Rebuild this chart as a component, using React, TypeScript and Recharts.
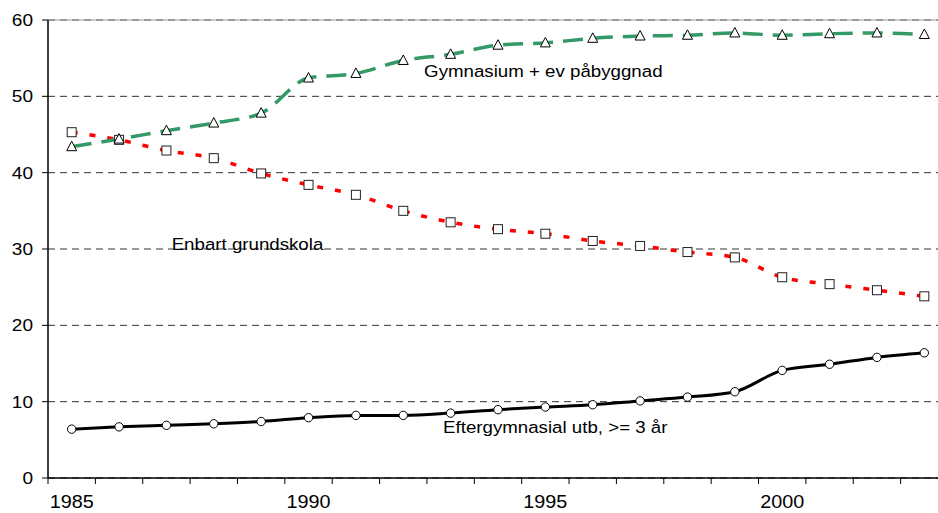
import React from 'react';
import { LineChart, Line, XAxis, YAxis, CartesianGrid, ReferenceLine, ReferenceDot } from 'recharts';

const YEARS = [1985, 1986, 1987, 1988, 1989, 1990, 1991, 1992, 1993, 1994, 1995, 1996, 1997, 1998, 1999, 2000, 2001, 2002, 2003];
const GYMNASIUM = [43.4, 44.4, 45.5, 46.5, 47.8, 52.4, 53.0, 54.7, 55.5, 56.7, 57.0, 57.6, 57.9, 58.0, 58.3, 58.0, 58.2, 58.3, 58.1];
const GRUNDSKOLA = [45.3, 44.3, 42.9, 41.9, 39.9, 38.4, 37.1, 35.0, 33.5, 32.6, 32.0, 31.05, 30.4, 29.6, 28.9, 26.3, 25.4, 24.6, 23.8];
const EFTERGYMN = [6.4, 6.7, 6.9, 7.1, 7.4, 7.9, 8.2, 8.2, 8.5, 8.95, 9.3, 9.6, 10.1, 10.6, 11.3, 14.1, 14.9, 15.8, 16.4];
const Y_TICKS = [0, 10, 20, 30, 40, 50, 60];
const LABELED_YEARS = [1985, 1990, 1995, 2000];
const SERIES_LABELS = {
  gym: 'Gymnasium + ev påbyggnad',
  grund: 'Enbart grundskola',
  efter: 'Eftergymnasial utb, >= 3 år',
};
// annotation anchor points in data coordinates (year, value)
const LABEL_POS = {
  gym: [1992.44, 52.57],
  grund: [1987.11, 29.87],
  efter: [1992.84, 5.93],
};

const data = YEARS.map((year, i) => ({
  year,
  gym: GYMNASIUM[i],
  grund: GRUNDSKOLA[i],
  efter: EFTERGYMN[i],
}));

// category boundaries (Excel style tick marks between categories)
const X_BOUNDS = [...YEARS.map((y) => y - 0.5), YEARS[YEARS.length - 1] + 0.5];

const FONT = '"Liberation Sans", Arial, sans-serif';
const CHART_W = 960;
const CHART_H = 513;
const MARGIN = { top: 20, right: 12, bottom: 0, left: 0 };
const YAXIS_W = 48;
const PLOT_W = CHART_W - MARGIN.left - MARGIN.right - YAXIS_W;
const HALF_BAND = PLOT_W / (X_BOUNDS.length - 1) / 2;

const XTick = (props: any) => {
  const { x, y, payload } = props;
  const yr = payload.value + 0.5;
  if (!LABELED_YEARS.includes(yr)) return <g />;
  return (
    <text
      transform={`translate(${x + HALF_BAND},${y}) scale(1.1,1)`}
      x={0}
      y={0}
      textAnchor="middle"
      fontSize={18}
      fontFamily={FONT}
      fill="#000"
    >
      {yr}
    </text>
  );
};

const YTick = (props: any) => {
  const { x, y, payload } = props;
  return (
    <text
      transform={`translate(${x},${y}) scale(1.12,1)`}
      x={0}
      y={0}
      dy="0.36em"
      textAnchor="end"
      fontSize={17}
      fontFamily={FONT}
      fill="#000"
    >
      {payload.value}
    </text>
  );
};

const Triangle = (props: any) => {
  const { cx, cy, index } = props;
  if (cx == null || cy == null) return <g key={index} />;
  return (
    <polygon
      key={index}
      points={`${cx},${cy - 5.5} ${cx - 5},${cy + 4} ${cx + 5},${cy + 4}`}
      fill="#fff"
      stroke="#000"
      strokeWidth={1}
    />
  );
};

const Square = (props: any) => {
  const { cx, cy, index } = props;
  if (cx == null || cy == null) return <g key={index} />;
  return <rect key={index} x={cx - 4.5} y={cy - 4.5} width={9} height={9} fill="#fff" stroke="#222" strokeWidth={1} />;
};

const textLabel = (text: string) => (props: any) => {
  const vb = props.viewBox || {};
  return (
    <text
      transform={`translate(${vb.x},${vb.y}) scale(1.1,1)`}
      x={0}
      y={0}
      textAnchor="start"
      fontSize={17}
      fontFamily={FONT}
      fill="#000"
    >
      {text}
    </text>
  );
};

export default function App() {
  return (
    <div style={{ position: 'absolute', left: 0, top: 0, width: 938, height: 513, overflow: 'hidden', background: '#fff' }}>
      <div
        style={{
          position: 'absolute',
          left: 232,
          top: -22,
          fontFamily: FONT,
          fontWeight: 'bold',
          fontSize: 20,
          lineHeight: '23px',
          color: '#000',
        }}
      >
        g
      </div>
      <LineChart width={CHART_W} height={CHART_H} data={data} margin={MARGIN}>
        <CartesianGrid vertical={false} stroke="#333" strokeDasharray="7 5" />
        <ReferenceLine y={60} stroke="#9a9a9a" strokeWidth={1} />
        <XAxis
          dataKey="year"
          type="number"
          domain={[X_BOUNDS[0], X_BOUNDS[X_BOUNDS.length - 1]]}
          ticks={X_BOUNDS}
          interval={0}
          allowDecimals
          height={35}
          tickSize={6}
          tickMargin={24}
          axisLine={{ stroke: '#000', strokeWidth: 1.5 }}
          tickLine={{ stroke: '#000', strokeWidth: 1 }}
          tick={<XTick />}
        />
        <YAxis
          width={YAXIS_W}
          domain={[0, 60]}
          ticks={Y_TICKS}
          interval={0}
          tickSize={6}
          tickMargin={9}
          axisLine={{ stroke: '#000', strokeWidth: 1.5 }}
          tickLine={{ stroke: '#000', strokeWidth: 1 }}
          tick={<YTick />}
        />
        <Line
          dataKey="efter"
          type="monotone"
          stroke="#000"
          strokeWidth={3}
          dot={{ r: 4.2, fill: '#fff', stroke: '#000', strokeWidth: 1 }}
          activeDot={false}
          isAnimationActive={false}
        />
        <Line
          dataKey="grund"
          type="monotone"
          stroke="#ff0000"
          strokeWidth={3.5}
          strokeDasharray="6 12"
          dot={<Square />}
          activeDot={false}
          isAnimationActive={false}
        />
        <Line
          dataKey="gym"
          type="monotone"
          stroke="#339966"
          strokeWidth={3.5}
          strokeDasharray="20 10"
          dot={<Triangle />}
          activeDot={false}
          isAnimationActive={false}
        />
        <ReferenceDot x={LABEL_POS.gym[0]} y={LABEL_POS.gym[1]} r={0} fill="none" stroke="none" label={textLabel(SERIES_LABELS.gym)} />
        <ReferenceDot x={LABEL_POS.grund[0]} y={LABEL_POS.grund[1]} r={0} fill="none" stroke="none" label={textLabel(SERIES_LABELS.grund)} />
        <ReferenceDot x={LABEL_POS.efter[0]} y={LABEL_POS.efter[1]} r={0} fill="none" stroke="none" label={textLabel(SERIES_LABELS.efter)} />
      </LineChart>
    </div>
  );
}
